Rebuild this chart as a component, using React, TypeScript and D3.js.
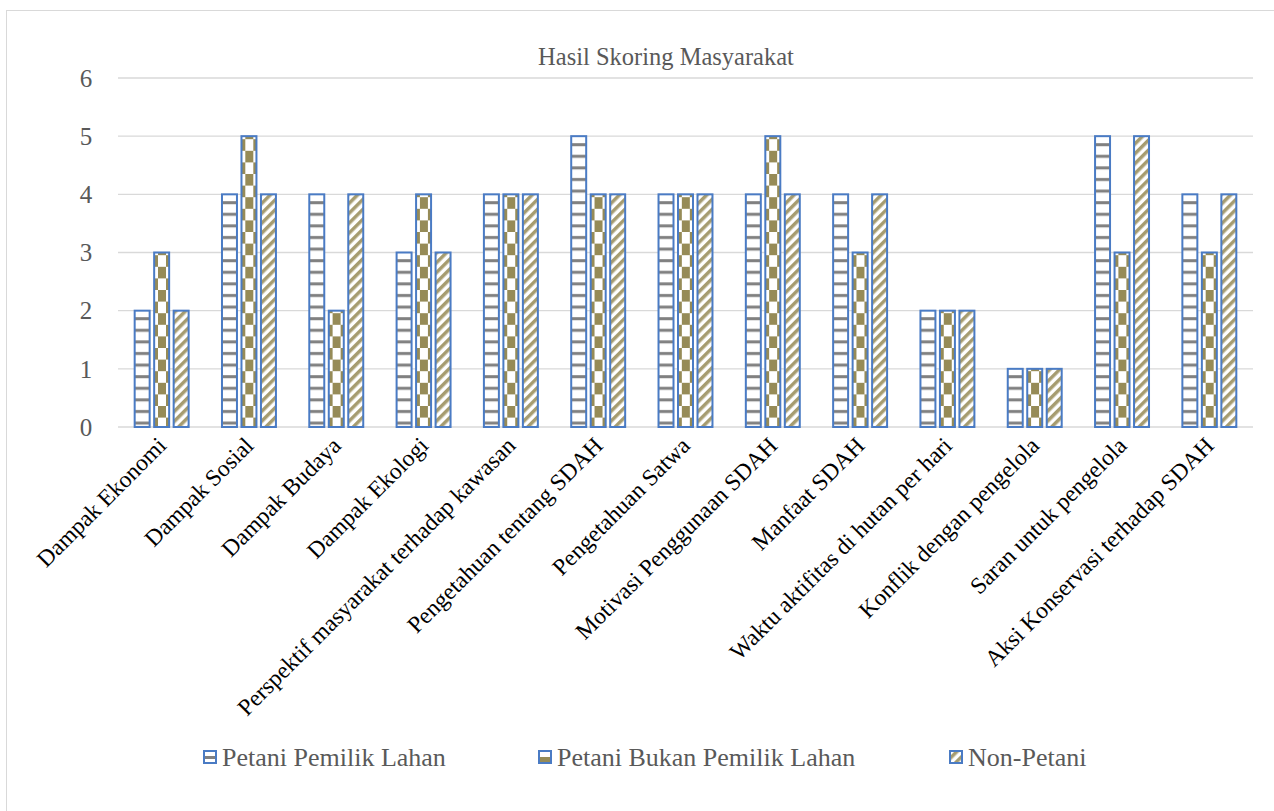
import React, { useEffect, useRef } from 'react';
import * as d3 from 'd3';

const categories = [
  'Dampak Ekonomi',
  'Dampak Sosial',
  'Dampak Budaya',
  'Dampak Ekologi',
  'Perspektif masyarakat terhadap kawasan',
  'Pengetahuan tentang SDAH',
  'Pengetahuan Satwa',
  'Motivasi Penggunaan SDAH',
  'Manfaat SDAH',
  'Waktu aktifitas di hutan per hari',
  'Konflik dengan pengelola',
  'Saran untuk pengelola',
  'Aksi Konservasi terhadap SDAH',
];
const seriesNames = ['Petani Pemilik Lahan', 'Petani Bukan Pemilik Lahan', 'Non-Petani'];
const pemilik = [2, 4, 4, 3, 4, 5, 4, 4, 4, 2, 1, 5, 4];
const bukanPemilik = [3, 5, 2, 4, 4, 4, 4, 5, 3, 2, 1, 3, 3];
const nonPetani = [2, 4, 4, 3, 4, 4, 4, 4, 4, 2, 1, 5, 4];
const yTicks = [0, 1, 2, 3, 4, 5, 6];

const W = 1274;
const H = 811;
const OLIVE = '#968b57';
const BLUE = '#4a7bc4';
const FONT = "'Liberation Serif', 'Times New Roman', serif";

const App = () => {
  const ref = useRef<SVGSVGElement>(null);

  useEffect(() => {
    if (!ref.current) return;
    const svg = d3.select(ref.current);
    svg.selectAll('*').remove();

    const margin = { top: 78, right: 21, bottom: 384, left: 118 };
    const plotBottom = H - margin.bottom;

    // fill patterns
    const defs = svg.append('defs');
    const p1 = defs.append('pattern').attr('id', 'pat-h').attr('patternUnits', 'userSpaceOnUse')
      .attr('width', 8).attr('height', 11.6);
    p1.append('rect').attr('width', 8).attr('height', 11.6).attr('fill', '#fff');
    p1.append('rect').attr('y', 4).attr('width', 8).attr('height', 3).attr('fill', '#808080');

    const p2 = defs.append('pattern').attr('id', 'pat-c').attr('patternUnits', 'userSpaceOnUse')
      .attr('width', 16).attr('height', 23.2);
    p2.append('rect').attr('width', 16).attr('height', 23.2).attr('fill', '#fff');
    p2.append('rect').attr('width', 8).attr('height', 11.6).attr('fill', OLIVE);
    p2.append('rect').attr('x', 8).attr('y', 11.6).attr('width', 8).attr('height', 11.6).attr('fill', OLIVE);

    const p3 = defs.append('pattern').attr('id', 'pat-d').attr('patternUnits', 'userSpaceOnUse')
      .attr('width', 7).attr('height', 7).attr('patternTransform', 'rotate(45)');
    p3.append('rect').attr('width', 7).attr('height', 7).attr('fill', '#fff');
    p3.append('rect').attr('width', 3.5).attr('height', 7).attr('fill', OLIVE).attr('opacity', 0.85);

    const fills = ['url(#pat-h)', 'url(#pat-c)', 'url(#pat-d)'];

    // chart border
    svg.append('rect')
      .attr('x', 6.5).attr('y', 10.5).attr('width', W + 10).attr('height', H + 10)
      .attr('fill', '#fff').attr('stroke', '#d9d9d9');

    const x = d3.scaleBand().domain(categories).range([margin.left, W - margin.right]).paddingInner(0).paddingOuter(0);
    const x1 = d3.scaleBand().domain(seriesNames).range([0, x.bandwidth()]).paddingInner(0.18).paddingOuter(0.83);
    const y = d3.scaleLinear().domain([0, 6]).range([plotBottom, margin.top]);

    // gridlines
    svg.append('g').selectAll('line').data(yTicks).join('line')
      .attr('x1', margin.left).attr('x2', W - margin.right)
      .attr('y1', (d) => y(d)).attr('y2', (d) => y(d))
      .attr('stroke', '#d9d9d9').attr('stroke-width', 1.3);

    // y tick labels
    svg.append('g').selectAll('text').data(yTicks).join('text')
      .attr('x', 86).attr('y', (d) => y(d)).attr('dy', '0.35em')
      .attr('text-anchor', 'middle').style('font-family', FONT).attr('font-size', 25)
      .attr('fill', '#595959').text((d) => d);

    // bars
    const data = [pemilik, bukanPemilik, nonPetani];
    const groups = svg.append('g').selectAll('g').data(categories).join('g')
      .attr('transform', (d) => `translate(${x(d)},0)`);
    groups.selectAll('rect')
      .data((_, i) => seriesNames.map((s, j) => ({ s, j, v: data[j][i] })))
      .join('rect')
      .attr('x', (d) => (x1(d.s) as number) + 0.5)
      .attr('y', (d) => y(d.v))
      .attr('width', x1.bandwidth() - 1)
      .attr('height', (d) => plotBottom - y(d.v))
      .attr('fill', (d) => fills[d.j])
      .attr('stroke', BLUE).attr('stroke-width', 2);

    // x category labels
    svg.append('g').selectAll('text').data(categories).join('text')
      .attr('transform', (d) => `translate(${(x(d) as number) + x.bandwidth() / 2 + 6},${plotBottom + 20}) rotate(-45)`)
      .attr('text-anchor', 'end').style('font-family', FONT).attr('font-size', 23.5)
      .attr('fill', '#000').text((d) => d);

    // title
    svg.append('text').attr('x', 666).attr('y', 56).attr('dy', '0.35em')
      .attr('text-anchor', 'middle').style('font-family', FONT).attr('font-size', 24.5)
      .attr('fill', '#595959').text('Hasil Skoring Masyarakat');

    // legend
    const legendX = [203, 538, 949];
    const lg = svg.append('g').selectAll('g').data(seriesNames).join('g')
      .attr('transform', (_, i) => `translate(${legendX[i]},757)`);
    lg.append('rect').attr('x', 1).attr('y', -6).attr('width', 12).attr('height', 12)
      .attr('fill', '#fff').attr('stroke', BLUE).attr('stroke-width', 2);
    lg.append('rect').attr('x', 2).attr('y', (_, i) => (i === 0 ? -1 : 0)).attr('width', 10)
      .attr('height', (_, i) => (i === 0 ? 3 : 5))
      .attr('fill', (_, i) => (i === 0 ? '#808080' : i === 1 ? OLIVE : 'none'));
    lg.filter((_, i) => i === 2).append('rect').attr('x', 2).attr('y', -5).attr('width', 10).attr('height', 10)
      .attr('fill', 'url(#pat-d)');
    lg.append('text').attr('x', 19).attr('y', 0).attr('dy', '0.35em')
      .style('font-family', FONT).attr('font-size', 26).attr('fill', '#595959')
      .text((d) => d);
  }, []);

  return (
    <svg ref={ref} width={W} height={H} style={{ position: 'absolute', left: 0, top: 0, background: '#fff' }}></svg>
  );
};

export default App;
